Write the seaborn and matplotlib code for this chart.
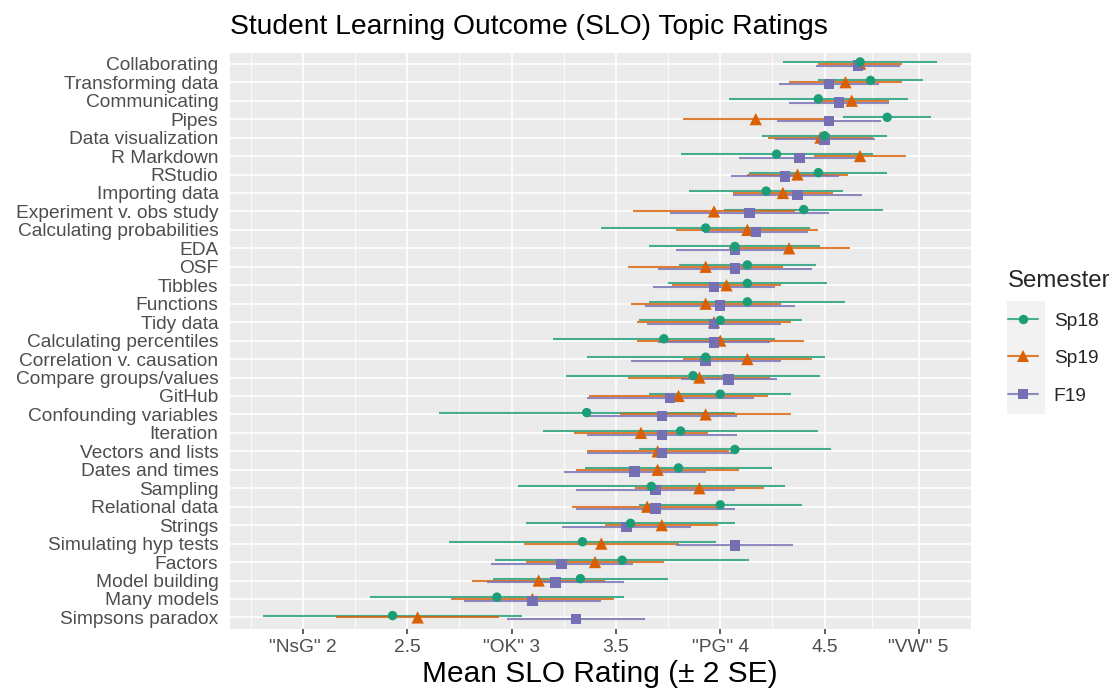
import numpy as np
import pandas as pd
import matplotlib
matplotlib.use("Agg")
import matplotlib.pyplot as plt
import seaborn as sns
from matplotlib.lines import Line2D
from matplotlib.patches import Rectangle
from matplotlib.legend_handler import HandlerTuple

# Topics, top to bottom
topics = [
    "Collaborating", "Transforming data", "Communicating", "Pipes",
    "Data visualization", "R Markdown", "RStudio", "Importing data",
    "Experiment v. obs study", "Calculating probabilities", "EDA", "OSF",
    "Tibbles", "Functions", "Tidy data", "Calculating percentiles",
    "Correlation v. causation", "Compare groups/values", "GitHub",
    "Confounding variables", "Iteration", "Vectors and lists",
    "Dates and times", "Sampling", "Relational data", "Strings",
    "Simulating hyp tests", "Factors", "Model building", "Many models",
    "Simpsons paradox",
]

semesters = ["Sp18", "Sp19", "F19"]

# Mean rating per topic and semester
mean_sp18 = [4.67, 4.72, 4.47, 4.80, 4.50, 4.27, 4.47, 4.22, 4.40, 3.93, 4.07,
             4.13, 4.13, 4.13, 4.00, 3.73, 3.93, 3.87, 4.00, 3.36, 3.81, 4.07,
             3.80, 3.67, 4.00, 3.57, 3.34, 3.53, 3.33, 2.93, 2.43]
mean_sp19 = [4.67, 4.60, 4.63, 4.17, 4.48, 4.67, 4.37, 4.30, 3.97, 4.13, 4.33,
             3.93, 4.03, 3.93, 3.97, 4.00, 4.13, 3.90, 3.80, 3.93, 3.62, 3.70,
             3.70, 3.90, 3.65, 3.72, 3.43, 3.40, 3.13, 3.10, 2.55]
mean_f19 = [4.66, 4.52, 4.57, 4.52, 4.50, 4.38, 4.31, 4.37, 4.14, 4.17, 4.07,
            4.07, 3.97, 4.00, 3.97, 3.97, 3.93, 4.04, 3.76, 3.72, 3.72, 3.72,
            3.59, 3.69, 3.69, 3.55, 4.07, 3.24, 3.21, 3.10, 3.31]

# Two standard errors around each mean
two_se_sp18 = [0.37, 0.25, 0.43, 0.21, 0.30, 0.46, 0.33, 0.37, 0.38, 0.50, 0.41,
               0.33, 0.38, 0.47, 0.39, 0.53, 0.57, 0.61, 0.34, 0.71, 0.66, 0.46,
               0.45, 0.64, 0.39, 0.50, 0.64, 0.61, 0.42, 0.61, 0.62]
two_se_sp19 = [0.20, 0.27, 0.18, 0.35, 0.25, 0.22, 0.24, 0.24, 0.39, 0.34, 0.29,
               0.37, 0.26, 0.36, 0.37, 0.40, 0.31, 0.34, 0.43, 0.41, 0.32, 0.34,
               0.39, 0.31, 0.36, 0.27, 0.37, 0.33, 0.32, 0.39, 0.39]
two_se_f19 = [0.20, 0.24, 0.24, 0.25, 0.24, 0.29, 0.26, 0.31, 0.38, 0.25, 0.28,
              0.37, 0.29, 0.36, 0.32, 0.27, 0.36, 0.23, 0.40, 0.36, 0.36, 0.36,
              0.34, 0.38, 0.38, 0.31, 0.28, 0.34, 0.33, 0.33, 0.33]

tick_values = [2, 2.5, 3, 3.5, 4, 4.5, 4.95]
tick_labels = ['"NsG" 2', "2.5", '"OK" 3', "3.5", '"PG" 4', "4.5", '"VW" 5']

palette = {"Sp18": "#1B9E77", "Sp19": "#D95F02", "F19": "#7570B3"}
markers = {"Sp18": "o", "Sp19": "^", "F19": "s"}
marker_area = {"Sp18": 46, "Sp19": 78, "F19": 56}
dodge = {"Sp18": -0.1, "Sp19": 0.0, "F19": 0.1}

means = {"Sp18": mean_sp18, "Sp19": mean_sp19, "F19": mean_f19}
spreads = {"Sp18": two_se_sp18, "Sp19": two_se_sp19, "F19": two_se_f19}

frames = []
for sem in ["Sp19", "F19", "Sp18"]:
    m = np.array(means[sem])
    s = np.array(spreads[sem])
    frames.append(pd.DataFrame({
        "topic": topics,
        "semester": sem,
        "mean": m,
        "lo": m - s,
        "hi": m + s,
        "row": np.arange(len(topics)) + dodge[sem],
    }))
df = pd.concat(frames, ignore_index=True)

sns.set_theme(style="darkgrid")
plt.rcParams["font.family"] = ["Liberation Sans", "DejaVu Sans"]

fig = plt.figure(figsize=(11.14, 6.89), dpi=100)
ax = fig.add_axes([229.5 / 1114, 1 - 628.5 / 689, (971 - 229.5) / 1114, (628.5 - 52.7) / 689])
ax.set_facecolor("#EBEBEB")

# Error ranges (mean ± 2 SE)
for sem in semesters:
    d = df[df["semester"] == sem]
    ax.hlines(d["row"], d["lo"], d["hi"], color=palette[sem], lw=1.5,
              alpha=0.8, zorder=2)

# Means
sns.scatterplot(data=df, x="mean", y="row", hue="semester", style="semester",
                size="semester", sizes=marker_area, markers=markers,
                palette=palette, hue_order=semesters, style_order=semesters,
                size_order=semesters, linewidth=0, legend=False, ax=ax,
                zorder=3)

# Axis limits with ggplot-style expansion
lo_all, hi_all = df["lo"].min(), df["hi"].max()
pad = 0.05 * (hi_all - lo_all)
ax.set_xlim(lo_all - pad, hi_all + pad)
ax.set_ylim(len(topics) - 1 + 0.6, -0.6)

ax.set_xticks(tick_values)
ax.set_xticklabels(tick_labels)
minor = [1.75] + [(a + b) / 2 for a, b in zip(tick_values[:-1], tick_values[1:])]
ax.set_xticks(minor, minor=True)
ax.set_yticks(range(len(topics)))
ax.set_yticklabels(topics)

ax.grid(False)
ax.grid(which="major", axis="both", color="white", lw=1.2)
ax.grid(which="minor", axis="x", color="white", lw=0.6)
ax.set_axisbelow(True)
for sp in ax.spines.values():
    sp.set_visible(False)

ax.tick_params(axis="y", length=0, pad=8, labelsize=13.8, labelcolor="#4D4D4D")
ax.tick_params(axis="x", which="major", length=3.3, width=1.1, color="#333333",
               pad=4, labelsize=13.8, labelcolor="#4D4D4D", bottom=True)
ax.tick_params(axis="x", which="minor", length=0)

ax.set_ylabel("")
ax.set_xlabel("Mean SLO Rating (± 2 SE)", fontsize=21.5, color="black", labelpad=3.5)
ax.set_title("Student Learning Outcome (SLO) Topic Ratings", loc="left",
             fontsize=20.3, pad=13.2, color="black")

# Legend with shaded key area
fig.add_artist(Rectangle((1006.7 / 1114, 1 - 414 / 689), (1045 - 1006.7) / 1114,
                         (414 - 300.7) / 689, transform=fig.transFigure,
                         facecolor="#F2F2F2", edgecolor="none", zorder=0))
handles = []
for sem in semesters:
    line = Line2D([], [], color=palette[sem], lw=1.5, alpha=0.8)
    pt = Line2D([], [], color=palette[sem], marker=markers[sem], ls="none",
                markersize=np.sqrt(marker_area[sem]), markeredgewidth=0)
    handles.append((line, pt))
leg = fig.legend(handles, semesters, title="Semester", loc="upper left",
                 bbox_to_anchor=(1008 / 1114, 1 - 270 / 689),
                 bbox_transform=fig.transFigure, frameon=False, fontsize=13.8,
                 title_fontsize=17.25, handlelength=1.58, handletextpad=0.8,
                 labelspacing=1.05, alignment="left", borderpad=0,
                 borderaxespad=0, handler_map={tuple: HandlerTuple(ndivide=1)})

fig.savefig("out.png", dpi=100)
